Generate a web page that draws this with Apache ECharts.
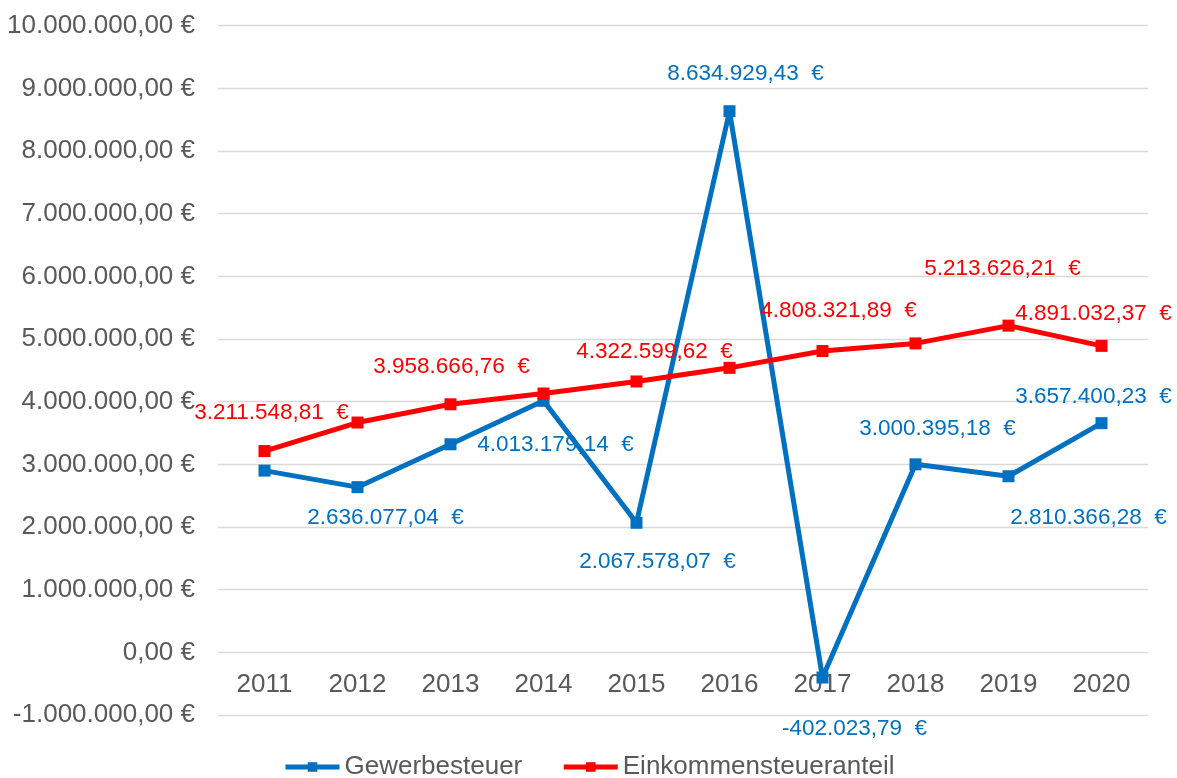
<!DOCTYPE html>
<html>
<head>
<meta charset="utf-8">
<script src="https://cdn.jsdelivr.net/npm/echarts@6/dist/echarts.min.js"></script>
<style>html,body{margin:0;padding:0;background:#fff}#c{width:1177px;height:778px}</style>
</head>
<body>
<div id="c"></div>
<script>
const years = ['2011','2012','2013','2014','2015','2016','2017','2018','2019','2020'];
const gewerbesteuer = [2900000, 2636077.04, 3320000, 4013179.14, 2067578.07, 8634929.43, -402023.79, 3000395.18, 2810366.28, 3657400.23];
const einkommensteuer = [3211548.81, 3667000, 3958666.76, 4130000, 4322599.62, 4540000, 4808321.89, 4930000, 5213626.21, 4891032.37];
// which points carry a data label, and the label's shift from the point
const gewLabelOffsets = [null, [28, 31], null, [12, 44], [21, 39], [16, -37], [32, 51], [22, -36], [80, 42], [-8, -26]];
const einkLabelOffsets = [[7, -38], null, [1, -37], null, [18, -30], null, [16, -40], null, [-6, -57], [-8, -32]];

function fmt(v) {
  const s = Math.abs(v).toFixed(2);
  let [i, d] = s.split('.');
  i = i.replace(/\B(?=(\d{3})+(?!\d))/g, '.');
  return (v < 0 ? '-' : '') + i + ',' + d;
}
const FONT = '"Liberation Sans", Arial, sans-serif';

function buildData(values, offsets, color) {
  return values.map((v, k) => {
    const off = offsets[k];
    if (!off) return { value: v, label: { show: false } };
    return {
      value: v,
      label: {
        show: true, position: 'inside', offset: off,
        formatter: p => fmt(p.value) + '  €',
        color: color, fontSize: 22.5, fontFamily: FONT
      }
    };
  });
}

const chart = echarts.init(document.getElementById('c'));
chart.setOption({
  animation: false,
  backgroundColor: '#ffffff',
  grid: { left: 218, right: 29, top: 25.7, bottom: 63, containLabel: false },
  xAxis: {
    type: 'category', data: years, boundaryGap: true, position: 'bottom', offset: -63,
    axisLine: { show: false, onZero: false }, axisTick: { show: false },
    axisLabel: { color: '#595959', fontSize: 26, fontFamily: FONT, margin: 20 }
  },
  yAxis: {
    type: 'value', min: -1000000, max: 10000000, interval: 1000000,
    axisLine: { show: false }, axisTick: { show: false },
    splitLine: { lineStyle: { color: '#D9D9D9', width: 1.3 } },
    axisLabel: { color: '#595959', fontSize: 26, fontFamily: FONT, margin: 23,
      formatter: v => fmt(v) + ' €' }
  },
  legend: {
    left: 278, top: 749, itemWidth: 54, itemHeight: 12, itemGap: 39, itemTextGap: 4,
    lineStyle: { width: 5 },
    textStyle: { color: '#595959', fontSize: 26, fontFamily: FONT },
    data: ['Gewerbesteuer', 'Einkommensteueranteil']
  },
  series: [
    {
      name: 'Gewerbesteuer', type: 'line',
      data: buildData(gewerbesteuer, gewLabelOffsets, '#0070C0'),
      symbol: 'rect', symbolSize: 12, showAllSymbol: true,
      lineStyle: { color: '#0070C0', width: 5 },
      itemStyle: { color: '#0070C0' }
    },
    {
      name: 'Einkommensteueranteil', type: 'line',
      data: buildData(einkommensteuer, einkLabelOffsets, '#FF0000'),
      symbol: 'rect', symbolSize: 12, showAllSymbol: true,
      lineStyle: { color: '#FF0000', width: 5 },
      itemStyle: { color: '#FF0000' }
    }
  ]
});
</script>
</body>
</html>
